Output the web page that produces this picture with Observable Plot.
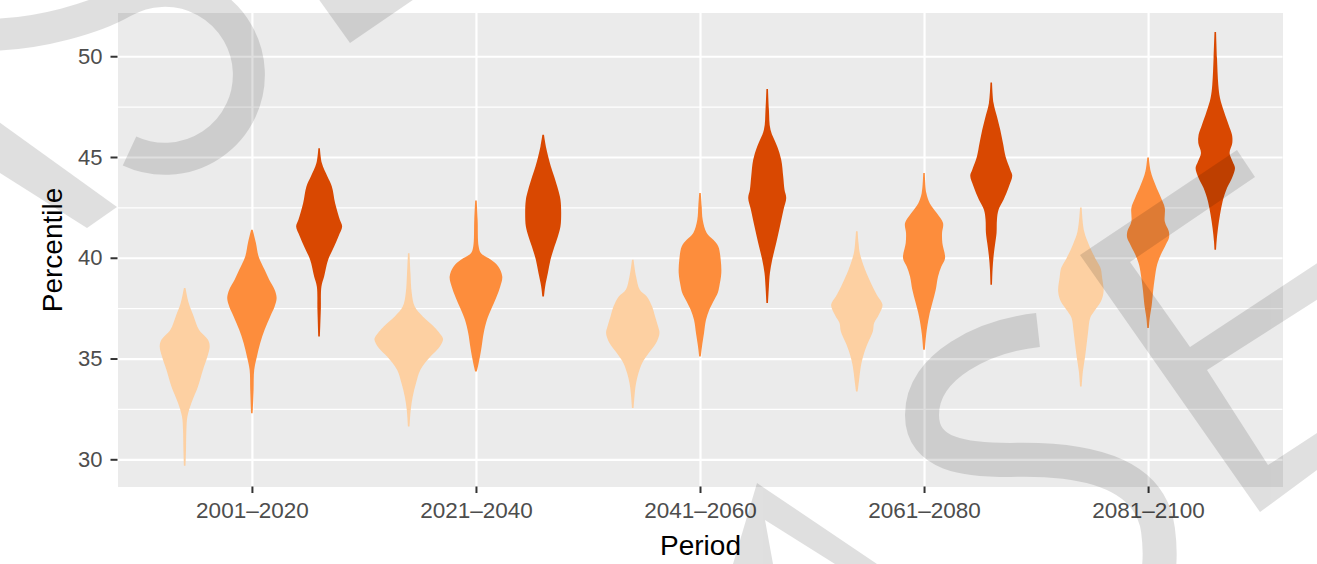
<!DOCTYPE html>
<html><head><meta charset="utf-8">
<script src="https://cdn.jsdelivr.net/npm/d3@7"></script>
<script src="https://cdn.jsdelivr.net/npm/@observablehq/plot@0.6"></script>
<style>
html,body{margin:0;padding:0;background:#fff;}
#wrap{position:relative;width:1317px;height:564px;overflow:hidden;}
#wm{position:absolute;left:0;top:0;pointer-events:none;}
</style></head><body>
<div id="wrap"><div id="chart"></div>
<svg id="wm" width="1317" height="564" xmlns="http://www.w3.org/2000/svg">
  <g opacity="0.12">
    <path d="M -15,35 C 40,35 97,17 123,2 A 84 84 0 1 1 129.5,151" fill="none" stroke="#000" stroke-width="32"/>
    <path d="M 305,-20 L 350,43 L 442,-20 Z" fill="#000"/>
    <path d="M -30,101 L 117,207 L 87,228 L -30,154 Z" fill="#000"/>
    <path d="M 733,564 L 757,483 L 877,564 L 835,564 L 765,520 L 773,564 Z" fill="#000"/>
    <path d="M 1038,330 C 985,336 922,365 922,415 C 922,455 965,460 1010,460 C 1080,458 1150,470 1158,530 C 1162,560 1160,590 1140,620" fill="none" stroke="#000" stroke-width="34"/>
    <path d="M 1080,255 L 1237,150 L 1255,177 L 1130,262 L 1190,347 L 1340,248 L 1340,285 L 1207,370 L 1268,465 L 1340,418 L 1340,453 L 1260,512 Z" fill="#000"/>
  </g>
</svg>
</div>
<script>
// Categories
const periods = ["2001–2020", "2021–2040", "2041–2060", "2061–2080", "2081–2100"];
const groups = ["low", "mid", "high"];
const groupColors = ["#FDD0A2", "#FD8D3C", "#D94801"];
const yMajor = [30, 35, 40, 45, 50];
const yMinor = [32.5, 37.5, 42.5, 47.5];

// Violin profiles: [percentile, density (half width)]
const p1_low  = [[38.50,0.8],[37.75,4],[37.09,9],[36.43,14.3],[35.93,23.3],[35.60,25],[35.10,22.7],[34.44,18.3],[33.61,13.3],[32.79,6.7],[32.12,2.7],[31.46,1.7],[30.47,1.3],[29.68,0.8]];
const p1_mid  = [[41.39,0.8],[40.73,4],[40.06,6.7],[39.40,12.7],[38.91,17.3],[38.41,22.7],[38.00,24.7],[37.58,22.7],[37.09,18.3],[36.43,12.7],[35.77,8.3],[35.10,5],[34.44,2.3],[33.45,1.7],[32.29,0.8]];
const p1_high = [[45.44,0.8],[44.70,2.7],[44.03,8.3],[43.54,12.7],[42.71,16],[41.89,20.7],[41.55,23],[41.06,19.3],[40.56,15],[39.90,9],[39.07,5],[38.58,2.3],[37.42,1.7],[36.09,0.8]];

const p2_low  = [[40.23,0.8],[39.24,1.7],[38.25,3],[37.58,6],[37.09,14],[36.59,25],[36.09,33.3],[35.93,34.3],[35.52,30],[35.10,21.7],[34.44,11.7],[33.78,7.3],[33.12,4],[32.46,2],[31.63,0.8]];
const p2_mid  = [[42.84,0.8],[41.89,1.7],[40.56,2.7],[40.23,5],[39.90,15],[39.57,22.3],[39.07,26.3],[38.58,24.3],[38.08,20.7],[37.42,15],[36.92,11],[36.26,7.7],[35.60,5.7],[35.10,4],[34.61,2],[34.36,0.8]];
const p2_high = [[46.10,0.8],[45.52,2.7],[45.03,5],[44.53,7.7],[44.03,11],[43.37,15],[42.88,17.3],[42.22,18],[41.55,17.3],[41.06,14.7],[40.56,11.3],[39.90,7.3],[39.24,4.7],[38.58,2],[38.08,0.8]];

const p3_low  = [[39.90,0.8],[39.07,3.3],[38.41,7],[38.08,14],[37.58,19.3],[37.09,22.3],[36.59,25.3],[36.26,26.7],[35.77,23.3],[35.27,16],[34.77,9.3],[34.28,5.7],[33.78,3.3],[33.29,2],[32.54,0.8]];
const p3_mid  = [[43.21,0.8],[42.55,1.7],[41.89,2.7],[41.23,6.7],[40.89,13.3],[40.56,18.3],[39.90,20.7],[39.24,21.3],[38.58,19.3],[38.25,17.7],[37.92,14.3],[37.42,9.3],[36.92,6],[36.26,4],[35.60,2],[35.10,0.8]];
const p3_high = [[48.37,0.8],[47.35,1.7],[46.35,3.3],[45.52,10],[44.86,14],[44.03,16],[43.37,17.3],[42.96,19],[42.38,16.3],[41.55,12.7],[40.73,9],[39.90,5],[39.24,2.7],[38.58,1.7],[37.75,0.8]];

const p4_low  = [[41.31,0.8],[40.73,1.7],[40.23,3],[39.40,8.3],[38.58,15.7],[38.08,21],[37.67,25.7],[37.17,22],[36.76,17.3],[36.34,16],[35.77,11],[35.27,7.3],[34.61,4],[33.95,2.3],[33.36,0.8]];
const p4_mid  = [[44.20,0.8],[43.21,2.3],[42.71,5.7],[42.22,12.7],[41.72,19],[41.23,18],[40.73,18.3],[39.98,21],[39.57,17.3],[39.07,14],[38.41,11.7],[37.75,8.3],[37.09,5],[36.26,2.3],[35.43,0.8]];
const p4_high = [[48.70,0.8],[47.68,2.3],[47.01,5.7],[46.35,9],[45.69,11.7],[45.03,14.3],[44.37,19],[44.07,21],[43.54,17.7],[42.88,12.3],[42.38,7.3],[41.89,5.7],[41.23,5.3],[40.73,4],[40.06,2.3],[39.40,1.3],[38.66,0.8]];

const p5_low  = [[42.50,0.8],[41.31,3.3],[40.65,8],[39.98,14.3],[39.49,19.7],[38.99,21.3],[38.33,22.7],[37.83,20],[37.34,13.3],[37.01,9.3],[36.34,7.3],[35.68,5.7],[35.02,4],[34.36,2],[33.61,0.8]];
const p5_mid  = [[44.98,0.8],[44.28,2.7],[43.62,7.3],[42.96,13],[42.47,16.7],[41.80,16.7],[41.31,20.7],[41.01,21],[40.65,17.7],[40.15,12.7],[39.65,9],[38.99,6.7],[38.33,5],[37.67,3.7],[37.01,1.7],[36.51,0.8]];
const p5_high = [[51.20,0.8],[49.91,1.7],[48.59,3],[47.93,4.7],[47.26,8.7],[46.60,13.3],[46.10,16.7],[45.69,17],[45.20,14.3],[44.78,17.3],[44.45,19.7],[43.96,16.7],[43.46,11.7],[42.79,7.3],[42.13,4.7],[41.47,2.7],[40.81,1.3],[40.40,0.8]];

const profiles = [
  [p1_low, p1_mid, p1_high],
  [p2_low, p2_mid, p2_high],
  [p3_low, p3_mid, p3_high],
  [p4_low, p4_mid, p4_high],
  [p5_low, p5_mid, p5_high]
];

// Build the table for Plot
const dodge = 0.3;            // dodge width between groups (in category units)
const densityScale = 1 / 224; // density -> category units
const rows = [];
profiles.forEach((byGroup, pi) => {
  byGroup.forEach((prof, gi) => {
    prof.forEach(([value, density]) => {
      rows.push({key: pi + "-" + gi, period: pi + 1, center: pi + 1 + (gi - 1) * dodge,
                 group: groups[gi], value, density});
    });
  });
});

const font = "'Liberation Sans', Arial, Helvetica, sans-serif";

const chart = Plot.plot({
  width: 1317,
  height: 564,
  marginLeft: 117.5,
  marginRight: 34.5,
  marginTop: 12.5,
  marginBottom: 77.5,
  style: {fontFamily: font, fontSize: "22px", background: "white", color: "#4D4D4D"},
  x: {type: "linear", domain: [0.4, 5.6]},
  y: {domain: [28.65, 52.17]},
  color: {domain: groups, range: groupColors},
  marks: [
    Plot.frame({fill: "#EBEBEB", stroke: "none"}),
    Plot.ruleY(yMinor, {stroke: "white", strokeWidth: 1.1}),
    Plot.ruleY(yMajor, {stroke: "white", strokeWidth: 2.2}),
    Plot.ruleX(d3.range(1, periods.length + 1), {stroke: "white", strokeWidth: 2.2}),
    Plot.areaX(rows, {
      y: "value",
      x1: d => d.center - d.density * densityScale,
      x2: d => d.center + d.density * densityScale,
      z: "key",
      fill: "group",
      curve: "catmull-rom"
    }),
    Plot.axisY(yMajor, {tickSize: 7, tickPadding: 8.5, fontSize: 22, fill: "#4D4D4D", stroke: "#333333", strokeWidth: 2, label: null}),
    Plot.axisX(d3.range(1, periods.length + 1), {tickFormat: i => periods[i - 1], tickSize: 6.5, tickPadding: 8.5, fontSize: 22.5, fill: "#4D4D4D", stroke: "#333333", strokeWidth: 2, label: null}),
    Plot.text(["Percentile"], {text: d => d, frameAnchor: "left", textAnchor: "middle", lineAnchor: "middle", dx: -65, rotate: -90, fontSize: 28, fill: "black"}),
    Plot.text(["Period"], {text: d => d, frameAnchor: "bottom", textAnchor: "middle", lineAnchor: "bottom", dy: 67.5, fontSize: 28, fill: "black"})
  ]
});
document.getElementById("chart").appendChild(chart);
</script>
</body></html>
